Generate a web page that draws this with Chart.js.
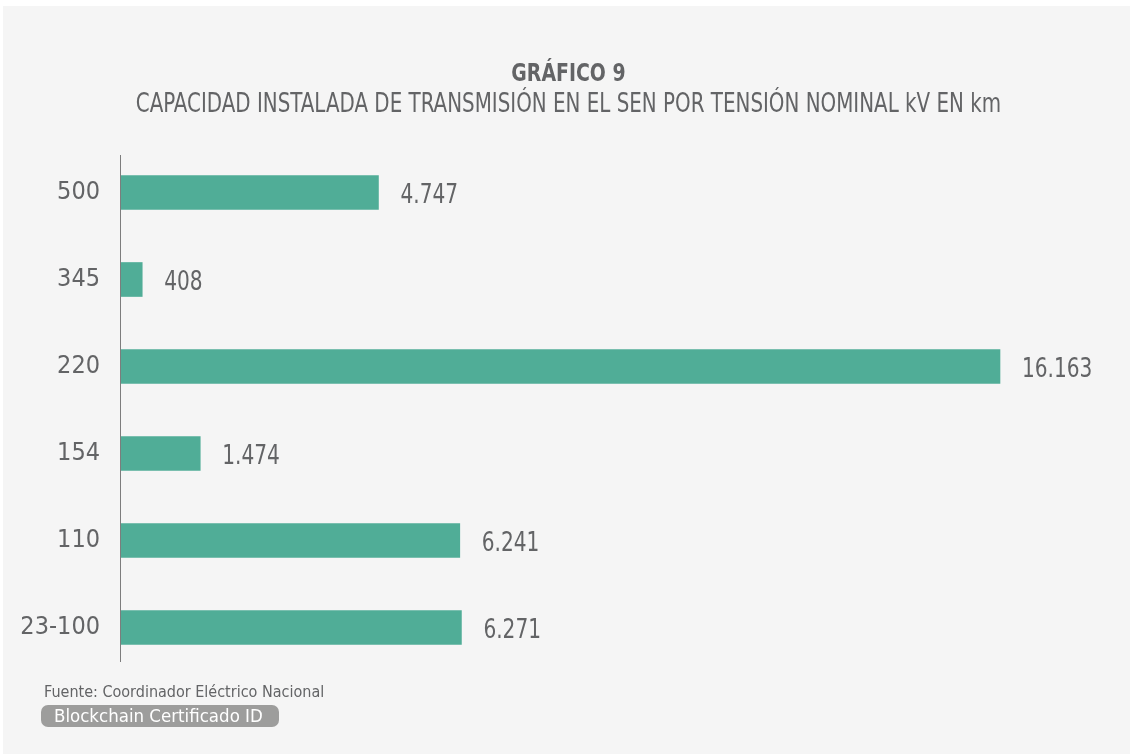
<!DOCTYPE html>
<html><head><meta charset="utf-8">
<script src="https://cdn.jsdelivr.net/npm/chart.js@4.4.1/dist/chart.umd.min.js"></script>
<style>
html,body{margin:0;padding:0;background:#fff;width:1130px;height:755px;overflow:hidden;}
#panel{position:absolute;left:3px;top:6px;width:1127px;height:748px;background:#f5f5f5;}
#wrap{position:absolute;left:0;top:0;width:1130px;height:755px;}
.t{position:absolute;left:3px;width:1130px;text-align:center;color:#636466;font-family:"DejaVu Sans Condensed","Roboto",sans-serif;white-space:nowrap;transform-origin:568px 0;}
#t1{top:58px;font-size:25px;font-weight:bold;transform:scaleX(0.84);}
#t2{top:88px;font-size:26px;transform:scaleX(0.85);}
#src{position:absolute;left:44px;top:682px;font-size:16px;color:#636466;font-family:"DejaVu Sans Condensed",sans-serif;}
#badge{position:absolute;left:41px;top:705px;width:238px;height:22px;border-radius:7px;background:#9d9d9c;color:#fff;font-size:18.5px;line-height:22px;padding-left:13px;box-sizing:border-box;font-family:"DejaVu Sans Condensed",sans-serif;}
</style></head>
<body>
<div id="panel"></div>
<div id="wrap"><canvas id="c" width="1130" height="755"></canvas></div>
<div class="t" id="t1">GRÁFICO 9</div>
<div class="t" id="t2">CAPACIDAD INSTALADA DE TRANSMISIÓN EN EL SEN POR TENSIÓN NOMINAL kV EN km</div>
<div id="src">Fuente: Coordinador Eléctrico Nacional</div>
<div id="badge">Blockchain Certificado ID</div>
<script>
const categories = ["500", "345", "220", "154", "110", "23-100"];
const capacityKm = [4747, 408, 16163, 1474, 6241, 6271];

const FONT = '"DejaVu Sans Condensed","Roboto",sans-serif';
const TEXT = '#636466';

function fmt(v){ return String(v).replace(/\B(?=(\d{3})+(?!\d))/g, '.'); }

const axisLine = {
  id: 'axisLine',
  afterDatasetsDraw(chart){
    const {ctx, chartArea} = chart;
    ctx.save();
    ctx.strokeStyle = '#7d7d7d';
    ctx.lineWidth = 1;
    ctx.beginPath();
    ctx.moveTo(chartArea.left + 0.5, chartArea.top + 6);
    ctx.lineTo(chartArea.left + 0.5, chartArea.bottom - 9);
    ctx.stroke();
    ctx.restore();
  }
};
const valueLabels = {
  id: 'valueLabels',
  afterDatasetsDraw(chart){
    const {ctx} = chart;
    const meta = chart.getDatasetMeta(0);
    ctx.save();
    ctx.fillStyle = TEXT;
    ctx.font = '26px ' + FONT;
    ctx.textAlign = 'left';
    ctx.textBaseline = 'middle';
    meta.data.forEach((bar, i) => {
      ctx.save();
      ctx.translate(bar.x + 22, bar.y + 4);
      ctx.scale(0.86, 1);
      ctx.fillText(fmt(chart.data.datasets[0].data[i]), 0, 0);
      ctx.restore();
    });
    ctx.restore();
  }
};

new Chart(document.getElementById('c'), {
  type: 'bar',
  data: {
    labels: categories,
    datasets: [{
      data: capacityKm,
      backgroundColor: '#50ad97',
      borderWidth: 0,
      barThickness: 34
    }]
  },
  options: {
    indexAxis: 'y',
    responsive: false,
    animation: false,
    layout: { padding: { top: 149, bottom: 84, left: 0, right: 30 } },
    plugins: { legend: { display: false }, tooltip: { enabled: false } },
    scales: {
      x: { display: false, min: 0, max: 18000 },
      y: {
        grid: { display: false, drawTicks: false },
        border: { display: false },
        ticks: { color: TEXT, font: { family: FONT, size: 25 }, padding: 20 },
        afterFit(scale){ scale.width = 120; }
      }
    }
  },
  plugins: [axisLine, valueLabels]
});
</script>
</body></html>
